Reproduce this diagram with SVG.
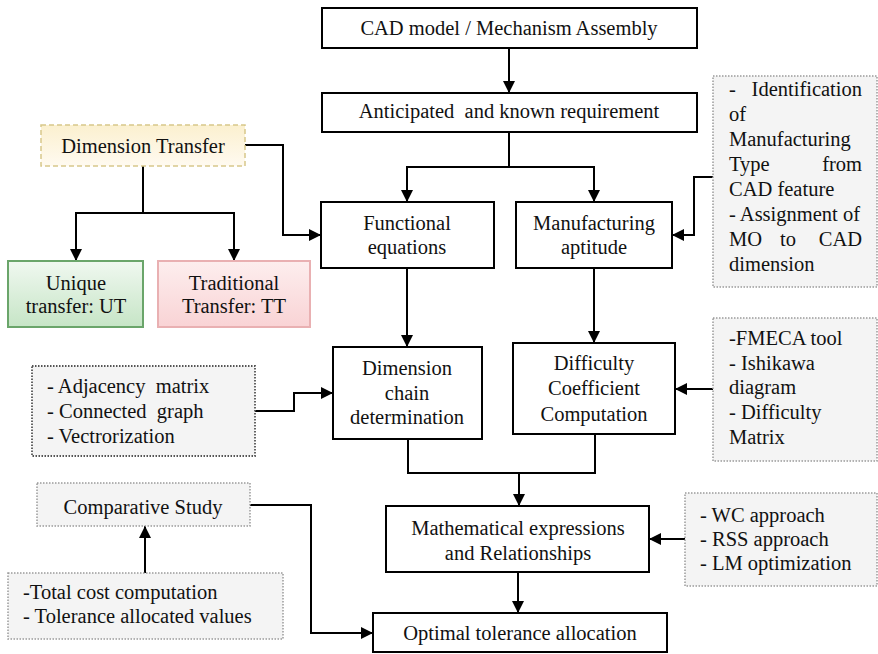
<svg xmlns="http://www.w3.org/2000/svg" width="878" height="654" viewBox="0 0 878 654">
<defs>
<style>
.t{font-size:20.5px;fill:#111;white-space:pre}
.c{text-anchor:middle}
.e{text-anchor:end}
.box{fill:#fff;stroke:#000;stroke-width:2}
.note{fill:#f4f4f4;stroke:#9a9a9a;stroke-width:1.5;stroke-dasharray:1.5 1.5}
.note2{fill:#f4f4f4;stroke:#555;stroke-width:1.8;stroke-dasharray:1.5 1.5}
.ln{fill:none;stroke:#000;stroke-width:2}
</style>
<linearGradient id="gy" x1="0" y1="0" x2="0" y2="1"><stop offset="0" stop-color="#fbf0cf"/><stop offset="1" stop-color="#fffaf0"/></linearGradient>
<linearGradient id="gg" x1="0" y1="0" x2="0" y2="1"><stop offset="0" stop-color="#f0f8f0"/><stop offset="1" stop-color="#c6e5c6"/></linearGradient>
<linearGradient id="gp" x1="0" y1="0" x2="0" y2="1"><stop offset="0" stop-color="#fdeeee"/><stop offset="1" stop-color="#f9d3d5"/></linearGradient>
<marker id="ar" markerUnits="userSpaceOnUse" markerWidth="12" markerHeight="12" viewBox="0 0 12 12" refX="12" refY="6" orient="auto"><path d="M0,0 L12,6 L0,12 z" fill="#000"/></marker>
</defs>
<rect width="878" height="654" fill="#fff"/>

<g id="connectors">
<path class="ln" d="M509,48 V93" marker-end="url(#ar)"/>
<path class="ln" d="M509,132 V167 H407 V202" marker-end="url(#ar)"/>
<path class="ln" d="M509,167 H594 V202" marker-end="url(#ar)"/>
<path class="ln" d="M245,145 H283 V235 H321" marker-end="url(#ar)"/>
<path class="ln" d="M143,166 V213 H76 V261" marker-end="url(#ar)"/>
<path class="ln" d="M143,213 H234 V261" marker-end="url(#ar)"/>
<path class="ln" d="M713,177 H694 V235 H672" marker-end="url(#ar)"/>
<path class="ln" d="M407,268 V347" marker-end="url(#ar)"/>
<path class="ln" d="M594,268 V343" marker-end="url(#ar)"/>
<path class="ln" d="M255,411 H294 V393 H333" marker-end="url(#ar)"/>
<path class="ln" d="M713,389 H675" marker-end="url(#ar)"/>
<path class="ln" d="M408,439 V473 H595 V434"/>
<path class="ln" d="M519,473 V506" marker-end="url(#ar)"/>
<path class="ln" d="M685,539 H649" marker-end="url(#ar)"/>
<path class="ln" d="M518,572 V613" marker-end="url(#ar)"/>
<path class="ln" d="M250,505 H311 V633 H373" marker-end="url(#ar)"/>
<path class="ln" d="M145,573 V526" marker-end="url(#ar)"/>
</g>

<g font-family="Liberation Serif, Times New Roman, serif">
<g id="cad"><rect class="box" x="322" y="8" width="375" height="40"/><text class="t c" x="509" y="35">CAD model / Mechanism Assembly</text></g>
<g id="anticipated"><rect class="box" x="322" y="93" width="375" height="39"/><text class="t c" x="509" y="118">Anticipated  and known requirement</text></g>
<g id="dimtransfer"><rect x="41" y="125" width="204" height="41" fill="url(#gy)" stroke="#d8c88a" stroke-width="1.5" stroke-dasharray="5 3"/><text class="t c" x="143" y="153">Dimension Transfer</text></g>
<g id="unique"><rect x="8" y="261" width="135" height="66" fill="url(#gg)" stroke="#6aa56a" stroke-width="2"/><text class="t c" x="76" y="290">Unique</text><text class="t c" x="76" y="313">transfer: UT</text></g>
<g id="traditional"><rect x="158" y="261" width="152" height="66" fill="url(#gp)" stroke="#e9b0b2" stroke-width="2"/><text class="t c" x="234" y="290">Traditional</text><text class="t c" x="234" y="313">Transfer: TT</text></g>
<g id="functional"><rect class="box" x="321" y="202" width="173" height="66"/><text class="t c" x="407" y="230">Functional</text><text class="t c" x="407" y="254">equations</text></g>
<g id="manufacturing"><rect class="box" x="516" y="202" width="156" height="66"/><text class="t c" x="594" y="230">Manufacturing</text><text class="t c" x="594" y="254">aptitude</text></g>
<g id="identification"><rect class="note" x="713" y="76" width="164" height="211"/>
<text class="t" x="729" y="96">-</text><text class="t e" x="862" y="96">Identification</text>
<text class="t" x="729" y="121">of</text>
<text class="t" x="729" y="146">Manufacturing</text>
<text class="t" x="729" y="171">Type</text><text class="t e" x="862" y="171">from</text>
<text class="t" x="729" y="196">CAD feature</text>
<text class="t" x="729" y="221">- Assignment of</text>
<text class="t" x="729" y="246">MO</text><text class="t c" x="788" y="246">to</text><text class="t e" x="862" y="246">CAD</text>
<text class="t" x="729" y="271">dimension</text></g>
<g id="adjacency"><rect class="note2" x="32" y="366" width="223" height="90"/><text class="t" x="47" y="393">- Adjacency  matrix</text><text class="t" x="47" y="418">- Connected  graph</text><text class="t" x="47" y="443">- Vectrorization</text></g>
<g id="dimchain"><rect class="box" x="333" y="347" width="149" height="92"/><text class="t c" x="407" y="375">Dimension</text><text class="t c" x="407" y="400">chain</text><text class="t c" x="407" y="424">determination</text></g>
<g id="difficulty"><rect class="box" x="513" y="343" width="162" height="91"/><text class="t c" x="594" y="370">Difficulty</text><text class="t c" x="594" y="395">Coefficient</text><text class="t c" x="594" y="421">Computation</text></g>
<g id="fmeca"><rect class="note" x="713" y="318" width="164" height="143"/><text class="t" x="729" y="345">-FMECA tool</text><text class="t" x="729" y="370">- Ishikawa</text><text class="t" x="729" y="394">diagram</text><text class="t" x="729" y="419">- Difficulty</text><text class="t" x="729" y="444">Matrix</text></g>
<g id="comparative"><rect class="note" x="37" y="483" width="213" height="43"/><text class="t c" x="143" y="514">Comparative Study</text></g>
<g id="totalcost"><rect class="note" x="8" y="573" width="275" height="66"/><text class="t" x="23" y="599">-Total cost computation</text><text class="t" x="23" y="623">- Tolerance allocated values</text></g>
<g id="math"><rect class="box" x="386" y="506" width="263" height="66"/><text class="t c" x="518" y="535">Mathematical expressions</text><text class="t c" x="518" y="560">and Relationships</text></g>
<g id="wc"><rect class="note" x="685" y="493" width="192" height="93"/><text class="t" x="700" y="522">- WC approach</text><text class="t" x="700" y="546">- RSS approach</text><text class="t" x="700" y="570">- LM optimization</text></g>
<g id="optimal"><rect class="box" x="373" y="613" width="294" height="39"/><text class="t c" x="520" y="640">Optimal tolerance allocation</text></g>
</g>
</svg>
